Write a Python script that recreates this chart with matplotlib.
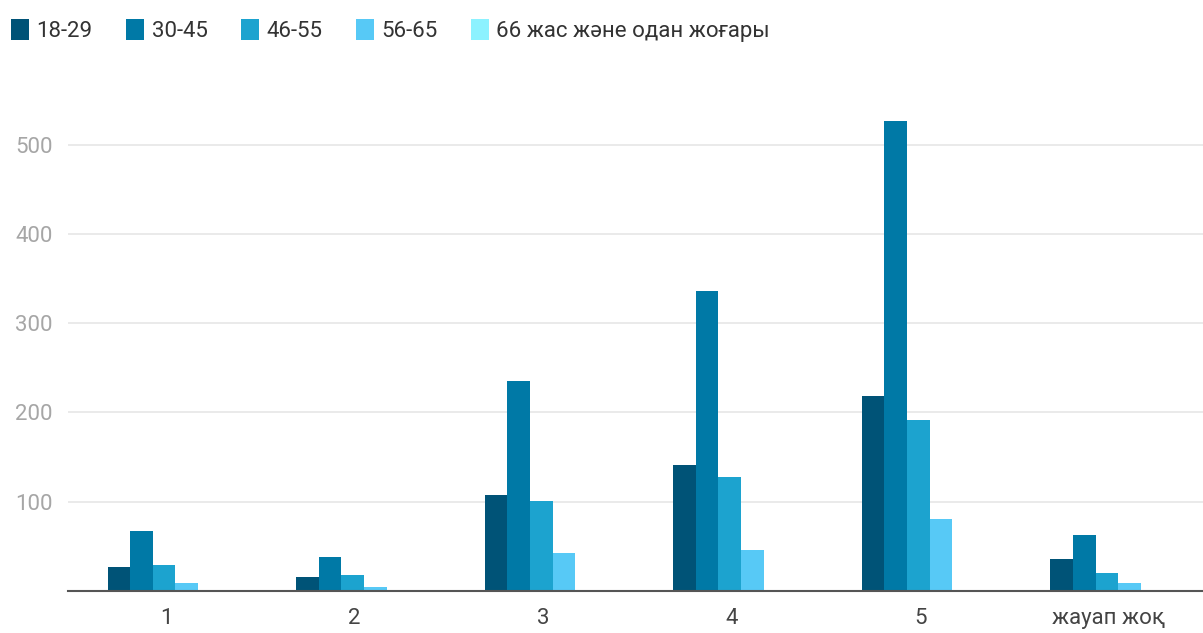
import numpy as np
import matplotlib.pyplot as plt
from matplotlib.patches import Patch

plt.rcParams['font.family'] = ['Roboto', 'DejaVu Sans']

categories = ['1', '2', '3', '4', '5', 'жауап жоқ']
series_names = ['18-29', '30-45', '46-55', '56-65', '66 жас және одан жоғары']
age_18_29 = [27, 16, 108, 141, 218, 36]
age_30_45 = [67, 38, 235, 336, 526, 63]
age_46_55 = [29, 18, 101, 128, 191, 20]
age_56_65 = [9, 5, 43, 46, 81, 9]
age_66_up = [0, 0, 0, 0, 0, 0]
colors = ['#005377', '#0079a6', '#1ca3cf', '#57c9f6', '#8cf2ff']


def main():
    data = [age_18_29, age_30_45, age_46_55, age_56_65, age_66_up]
    fig = plt.figure(figsize=(12.03, 6.33), dpi=100)
    ax = fig.add_axes([68 / 1203, 42 / 633, 1135 / 1203, 491 / 633])

    x = np.arange(len(categories))
    width = 0.6 / len(data)
    for i, vals in enumerate(data):
        ax.bar(x - 0.31 + width * (i + 0.5), vals, width, color=colors[i],
               label=series_names[i], zorder=3)

    ax.set_xlim(-0.52, len(categories) - 0.5)
    ax.set_ylim(0, 550)
    ax.set_yticks([100, 200, 300, 400, 500])
    ax.grid(axis='y', color='#e6e6e6', linewidth=1.2, zorder=0)
    for s in ['top', 'right', 'left']:
        ax.spines[s].set_visible(False)
    ax.spines['bottom'].set_color('#555555')
    ax.spines['bottom'].set_linewidth(1.5)
    ax.spines['bottom'].set_zorder(4)
    ax.set_xticks(x)
    ax.set_xticklabels(categories)
    ax.tick_params(axis='both', length=0, labelsize=16)
    ax.tick_params(axis='y', colors='#a6a6a6', pad=11)
    ax.tick_params(axis='x', colors='#444444', pad=12)

    handles = [Patch(facecolor=c, edgecolor='none') for c in colors]
    fig.legend(handles, series_names, loc='upper left',
               bbox_to_anchor=(0.0, 1 - 8 / 633), ncol=5, frameon=False,
               fontsize=16, handlelength=0.8, handleheight=1.1,
               handletextpad=0.35, columnspacing=1.5, labelcolor='#333333',
               borderaxespad=0.1)

    fig.savefig('out.png', dpi=100)


if __name__ == "__main__":
    main()
